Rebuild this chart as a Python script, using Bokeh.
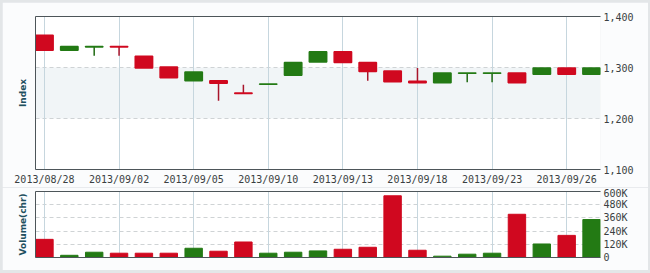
from bokeh.plotting import figure
from bokeh.layouts import column
from bokeh.models import (Range1d, FixedTicker, LinearAxis, NumeralTickFormatter,
                          Grid, ColumnDataSource)
from bokeh.embed import file_html
from bokeh.resources import INLINE

# ---- data ----
dates = ["2013/08/28", "2013/08/29", "2013/08/30", "2013/09/02", "2013/09/03",
         "2013/09/04", "2013/09/05", "2013/09/06", "2013/09/09", "2013/09/10",
         "2013/09/11", "2013/09/12", "2013/09/13", "2013/09/16", "2013/09/17",
         "2013/09/18", "2013/09/19", "2013/09/20", "2013/09/23", "2013/09/24",
         "2013/09/25", "2013/09/26", "2013/09/27"]
opens = [1363, 1334, 1340, 1341, 1322, 1301, 1274, 1274, 1250, 1267, 1285, 1311,
         1331, 1310, 1293, 1273, 1270, 1288.5, 1288.5, 1289, 1287, 1299, 1287]
highs = [1363, 1341, 1341, 1341, 1322, 1301, 1291, 1274, 1266, 1267.5, 1310, 1331,
         1331, 1310, 1293, 1299, 1289, 1289, 1289, 1289, 1299, 1299, 1299]
lows = [1334, 1334, 1323, 1323, 1299, 1280, 1274, 1235, 1249, 1267, 1285, 1311,
        1310, 1274, 1272, 1270, 1270, 1271, 1271, 1270, 1287, 1287, 1287]
closes = [1334, 1341, 1341, 1340, 1299, 1280, 1291, 1269, 1249, 1267.5, 1310, 1331,
          1310, 1292, 1272, 1270, 1289, 1289, 1289, 1270, 1299, 1287, 1299]
volumes = [165000, 20000, 48000, 39000, 39000, 39000, 84000, 57000, 141000, 39000,
           48000, 60000, 75000, 93000, 561000, 66000, 12000, 30000, 39000, 393000,
           123000, 201000, 345000]
price_ticks = [1100, 1200, 1300, 1400]
volume_ticks = [0, 120000, 240000, 360000, 480000, 600000]
volume_labels = ["0", "120K", "240K", "360K", "480K", "600K"]
label_step = 3

# ---- styling ----
RED, GREEN = "#d0081f", "#237a14"
RED_W, GREEN_W = "#a8152b", "#1f6a12"
DARK = "#4d5559"
VGRID = "#c6d6de"
HGRID = "#cfd3d5"
TXT = "#3a3f42"
TITLE = "#1f5060"
FONT = "DejaVu Sans Mono"

idx = list(range(len(dates)))
up = [c >= o for o, c in zip(opens, closes)]
src = ColumnDataSource(dict(
    x=idx,
    top=[max(o, c) for o, c in zip(opens, closes)],
    bottom=[min(o, c) for o, c in zip(opens, closes)],
    high=highs, low=lows, vol=volumes,
    fill=[GREEN if u else RED for u in up],
    wick=[GREEN_W if u else RED_W for u in up],
))
date_ticks = idx[::label_step]
date_labels = {i: dates[i] for i in date_ticks}

xr = Range1d(-0.36, len(dates) - 1 + 0.36)

NO_TICKS = dict(major_tick_in=0, major_tick_out=0, minor_tick_in=0, minor_tick_out=0)


def make_panel(height, yr, top_border, bottom_border, hgrid_ticks, band, title,
               right_ticks, right_formatter=None, right_overrides=None, date_axis=False):
    p = figure(width=646, height=height, x_range=xr, y_range=yr,
               output_backend="svg", toolbar_location=None,
               x_axis_location=None, y_axis_location=None,
               min_border_left=33, min_border_right=48,
               min_border_top=top_border, min_border_bottom=bottom_border,
               background_fill_color="white", border_fill_color="#fbfcfd",
               outline_line_color=None)
    # grids
    p.xgrid.visible = False
    p.ygrid.visible = False
    p.add_layout(Grid(dimension=1, ticker=FixedTicker(ticks=hgrid_ticks),
                      grid_line_color=HGRID, grid_line_dash="4 3",
                      band_fill_color=band, band_fill_alpha=1 if band else 0))
    p.add_layout(Grid(dimension=0, ticker=FixedTicker(ticks=date_ticks),
                      grid_line_color=VGRID, grid_line_width=1))
    # left axis: line + title
    left = LinearAxis(ticker=FixedTicker(ticks=[]), axis_line_color=DARK,
                      major_label_standoff=0, axis_label=title,
                      axis_label_text_font="DejaVu Sans", axis_label_text_font_style="bold",
                      axis_label_text_font_size="9px", axis_label_text_color=TITLE,
                      axis_label_standoff=8, **NO_TICKS)
    p.add_layout(left, "left")
    # top border line
    p.add_layout(LinearAxis(ticker=FixedTicker(ticks=[]), axis_line_color=DARK,
                            major_label_standoff=0, **NO_TICKS), "above")
    # bottom axis
    if date_axis:
        bottom = LinearAxis(ticker=FixedTicker(ticks=date_ticks), axis_line_color=DARK,
                            major_label_overrides=date_labels,
                            major_label_text_font=FONT, major_label_text_font_size="10px",
                            major_label_text_color=TXT, major_label_standoff=4, **NO_TICKS)
    else:
        bottom = LinearAxis(ticker=FixedTicker(ticks=[]), axis_line_color=DARK,
                            major_label_standoff=0, **NO_TICKS)
    p.add_layout(bottom, "below")
    # right labels
    right = LinearAxis(ticker=FixedTicker(ticks=right_ticks), axis_line_color=None,
                       major_label_standoff=3, major_label_text_font=FONT,
                       major_label_text_font_size="10px", major_label_text_color=TXT,
                       **NO_TICKS)
    if right_formatter is not None:
        right.formatter = right_formatter
    if right_overrides is not None:
        right.major_label_overrides = right_overrides
    p.add_layout(right, "right")
    return p


# ---------------- price panel ----------------
p1 = make_panel(185, Range1d(1100, 1400), 14, 17, price_ticks, "#f1f5f7", "Index",
                price_ticks, right_formatter=NumeralTickFormatter(format="0,0"),
                date_axis=True)
p1.segment(x0="x", y0="high", x1="x", y1="low", line_color="wick", line_width=1.5, source=src)
p1.vbar(x="x", top="top", bottom="bottom", width=0.7, fill_color="fill",
        line_color="fill", line_width=1.5, source=src)

# ---------------- volume panel ----------------
p2 = make_panel(83, Range1d(0, 600000), 4, 13, volume_ticks[1:-1], None, "Volume(chr)",
                volume_ticks,
                right_overrides={t: l for t, l in zip(volume_ticks, volume_labels)})
p2.vbar(x="x", top="vol", bottom=0, width=0.7, fill_color="fill",
        line_color="fill", line_width=1, source=src)

layout = column(p1, p2, spacing=0,
                styles={"padding": "2px 2px 3px 2px", "background": "#e3e6e8"})

open("out.html", "w").write(file_html(layout, INLINE))
